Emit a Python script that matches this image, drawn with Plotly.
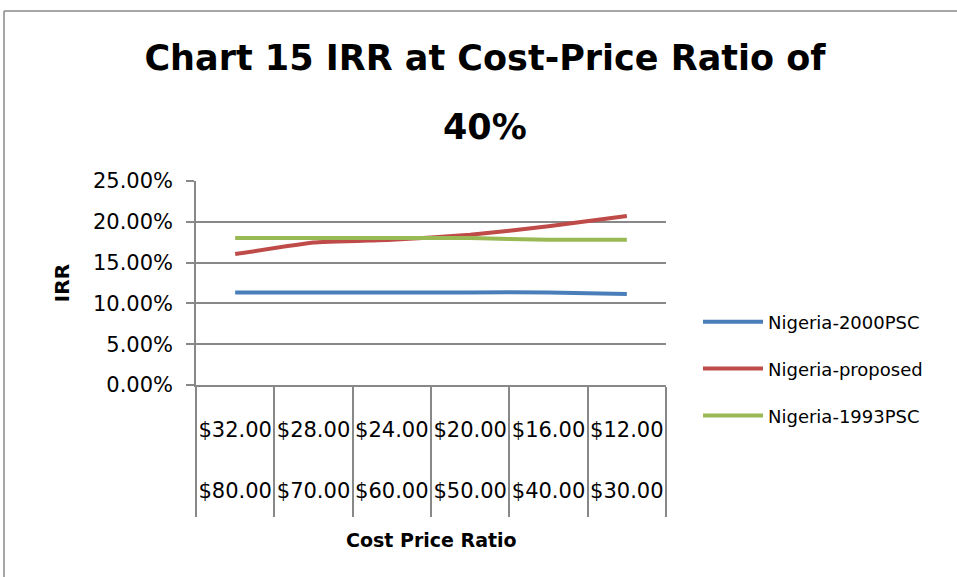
import plotly.graph_objects as go

cost_labels = ["$32.00", "$28.00", "$24.00", "$20.00", "$16.00", "$12.00"]
price_labels = ["$80.00", "$70.00", "$60.00", "$50.00", "$40.00", "$30.00"]
nigeria_2000 = [0.1135, 0.1135, 0.1135, 0.1135, 0.1135, 0.1115]
nigeria_proposed = [0.1605, 0.1745, 0.1780, 0.1840, 0.1945, 0.2070]
nigeria_1993 = [0.1800, 0.1800, 0.1800, 0.1800, 0.1780, 0.1780]

series = [
    ("Nigeria-2000PSC", nigeria_2000, "#4a7ebb"),
    ("Nigeria-proposed", nigeria_proposed, "#be4b48"),
    ("Nigeria-1993PSC", nigeria_1993, "#98b954"),
]

FONT = "DejaVu Sans"
GRID = "#888888"

fig = go.Figure()
for i, (name, vals, col) in enumerate(series):
    fig.add_trace(go.Scatter(
        x=cost_labels, y=vals, name=name, mode="lines",
        line=dict(color=col, width=4, shape="spline", smoothing=0.25),
        legendgroup=f"g{i}",
    ))

# carrier for the second (crude price) label row
fig.add_trace(go.Scatter(
    x=list(range(len(price_labels))), y=[None] * len(price_labels),
    xaxis="x2", yaxis="y", showlegend=False, hoverinfo="skip", mode="lines",
))

fig.update_layout(
    width=957, height=577,
    margin=dict(l=196, r=291, t=181, b=192, autoexpand=False),
    paper_bgcolor="white", plot_bgcolor="white",
    font=dict(family=FONT, size=21, color="black"),
    showlegend=True,
    title=dict(
        text="<b>Chart 15 IRR at Cost-Price Ratio of</b>",
        font=dict(family=FONT, size=35, color="black"),
        x=485 / 957, xanchor="center",
        y=1 - 58 / 577, yanchor="middle",
    ),
    legend=dict(
        x=(698 - 196) / 470, xanchor="left", y=(385 - 369) / 204, yanchor="middle",
        font=dict(family=FONT, size=18, color="black"),
        tracegroupgap=20.5, itemwidth=60,
        bgcolor="rgba(0,0,0,0)",
    ),
    xaxis=dict(
        type="category", categoryorder="array", categoryarray=cost_labels,
        range=[-0.5, 5.5], tickangle=0,
        showgrid=False, showline=True, linecolor=GRID, linewidth=1.5,
        ticks="outside", tickson="boundaries", ticklen=130,
        tickcolor=GRID, tickwidth=1.5,
        ticklabelstandoff=25,
        zeroline=False,
    ),
    xaxis2=dict(
        overlaying="x", anchor="y", side="bottom",
        range=[-0.5, 5.5], tickmode="array", tickangle=0,
        tickvals=list(range(len(price_labels))), ticktext=price_labels,
        showgrid=False, showline=False, ticks="", zeroline=False,
        ticklabelstandoff=91,
    ),
    yaxis=dict(
        range=[0, 0.25], dtick=0.05, tickformat=".2%",
        showgrid=True, gridcolor=GRID, gridwidth=1.5,
        showline=True, linecolor=GRID, linewidth=1.5,
        ticks="outside", ticklen=8, tickcolor=GRID, tickwidth=1.5,
        ticklabelstandoff=9,
        zeroline=False,
        title=dict(text="<b>IRR</b>", font=dict(size=20), standoff=18),
    ),
    annotations=[
        dict(text="<b>40%</b>", xref="paper", yref="paper",
             x=(485 - 196) / 470, y=(385 - 127) / 204,
             xanchor="center", yanchor="middle", showarrow=False,
             font=dict(family=FONT, size=35, color="black")),
        dict(text="<b>Cost Price Ratio</b>", xref="paper", yref="paper",
             x=(431 - 196) / 470, y=(385 - 540) / 204,
             xanchor="center", yanchor="middle", showarrow=False,
             font=dict(family=FONT, size=19, color="black")),
    ],
    shapes=[
        dict(type="line", xref="paper", yref="paper",
             x0=(4 - 196) / 470, x1=(960 - 196) / 470,
             y0=(385 - 11) / 204, y1=(385 - 11) / 204,
             line=dict(color=GRID, width=1.5)),
        dict(type="line", xref="paper", yref="paper",
             x0=(4 - 196) / 470, x1=(4 - 196) / 470,
             y0=(385 - 11) / 204, y1=(385 - 580) / 204,
             line=dict(color=GRID, width=1.5)),
    ],
)

fig.write_html("out.html", config={"displayModeBar": False},
               post_script="document.body.style.margin='0';")
